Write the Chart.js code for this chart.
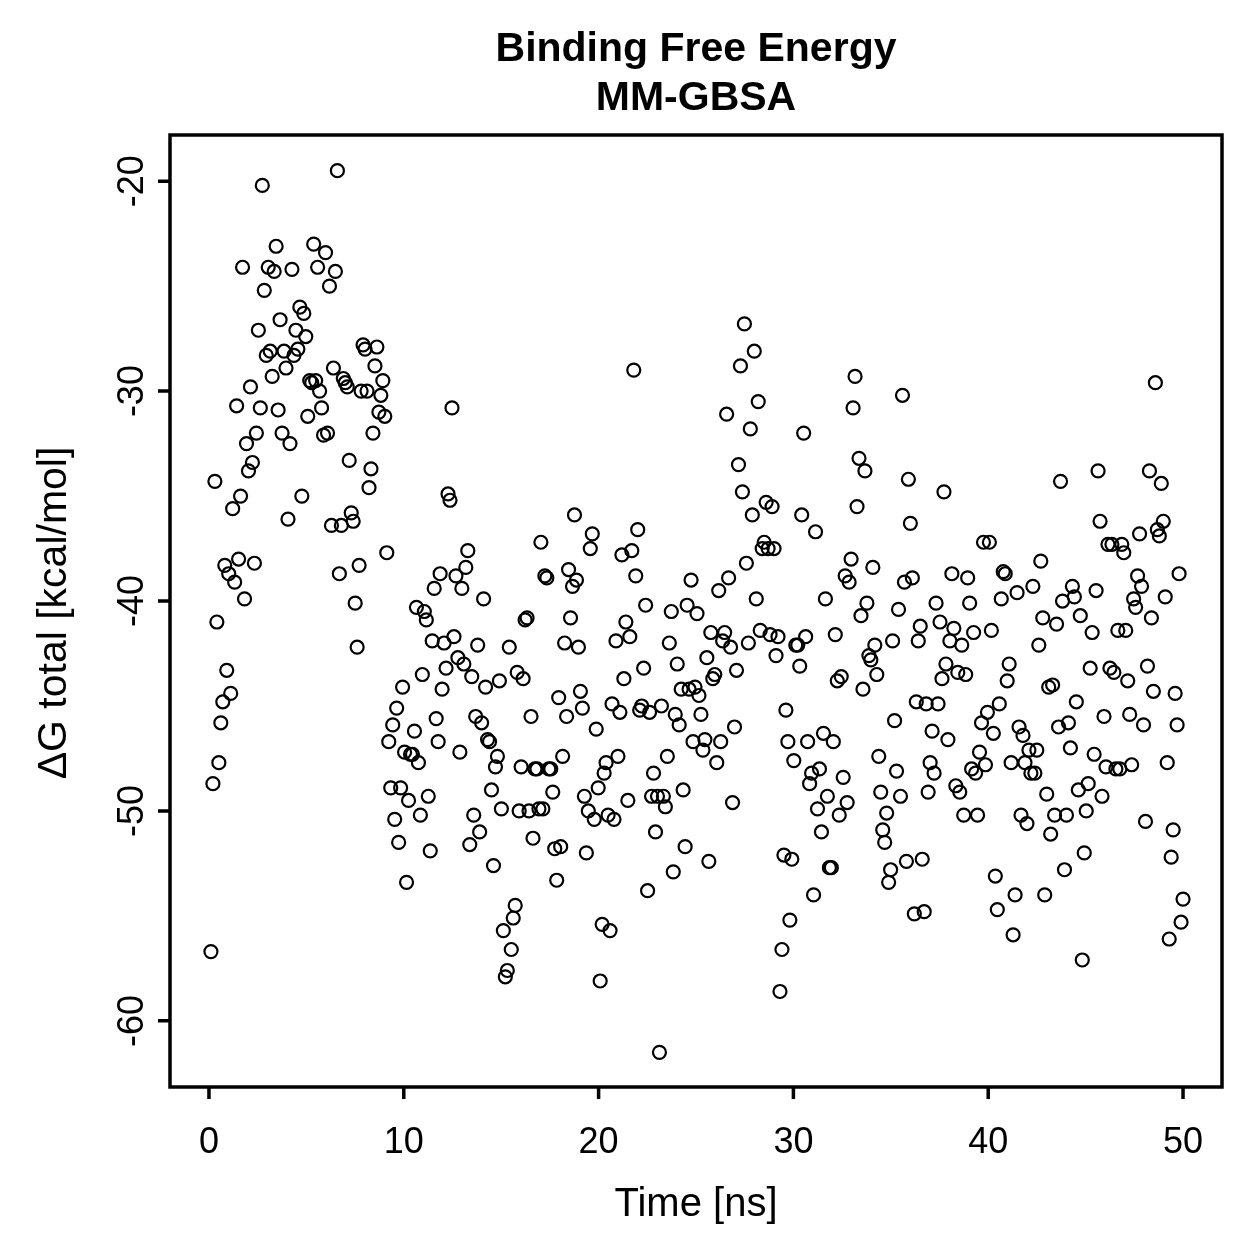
<!DOCTYPE html>
<html>
<head>
<meta charset="utf-8">
<script src="https://cdn.jsdelivr.net/npm/chart.js@4"></script>
<style>
  html, body { margin: 0; padding: 0; background: #fff; }
  canvas { display: block; }
</style>
</head>
<body>
<canvas id="gbsa" width="1259" height="1259"></canvas>
<script>
// binding free energy per frame (kcal/mol), 0 -> 50 ns
const dG = [
  -56.7, -48.7, -34.3, -41.0, -47.7, -45.8, -44.8, -38.3, -43.3, -38.7,
  -44.4, -35.6, -39.1, -30.7, -38.0, -35.0, -24.1, -39.9, -32.5, -33.8,
  -29.8, -33.4, -38.2, -32.0, -27.1, -30.8, -20.2, -25.2, -28.3, -24.1,
  -28.1, -29.3, -24.3, -23.1, -30.9, -26.6, -32.0, -28.1, -28.9, -36.1,
  -32.5, -24.2, -28.3, -27.1, -28.0, -26.0, -35.0, -26.3, -27.4, -31.2,
  -29.5, -29.6, -23.0, -29.5, -24.1, -30.0, -30.8, -32.1, -23.4, -32.0,
  -25.0, -36.4, -28.9, -24.3, -19.5, -38.7, -36.4, -29.4, -29.6, -29.8,
  -33.3, -35.8, -36.2, -40.1, -42.2, -38.3, -30.0, -27.8, -28.0, -30.0,
  -34.6, -33.7, -32.0, -28.8, -27.9, -31.0, -30.2, -29.5, -31.2, -37.7,
  -46.7, -48.9, -45.9, -50.4, -45.1, -51.5, -48.9, -44.1, -47.2, -53.4,
  -49.5, -47.3, -47.3, -46.2, -40.3, -47.7, -50.2, -43.5, -40.5, -40.9,
  -49.3, -51.9, -41.9, -39.4, -45.6, -46.7, -38.7, -44.2, -42.0, -43.2,
  -34.9, -35.2, -30.8, -41.7, -38.8, -42.7, -47.2, -39.4, -43.0, -38.4,
  -37.6, -51.6, -43.6, -50.2, -45.5, -42.1, -51.0, -45.8, -39.9, -44.1,
  -46.6, -46.7, -49.0, -52.6, -47.9, -47.4, -43.8, -49.9, -55.7, -57.9,
  -57.6, -42.2, -56.6, -55.1, -54.5, -43.4, -50.0, -47.9, -43.7, -40.9,
  -40.8, -50.0, -45.5, -51.3, -48.0, -48.0, -49.9, -37.2, -49.9, -38.8,
  -38.9, -48.0, -48.0, -49.1, -51.8, -53.3, -44.6, -51.7, -47.4, -42.0,
  -45.5, -38.5, -40.8, -39.3, -35.9, -39.0, -42.2, -44.3, -45.1, -49.3,
  -52.0, -50.0, -37.5, -36.8, -50.4, -46.1, -48.9, -58.1, -55.4, -48.2,
  -47.7, -50.2, -55.7, -44.9, -50.4, -41.9, -47.4, -45.3, -37.8, -43.7,
  -41.0, -49.5, -41.7, -37.6, -29.0, -38.8, -36.6, -45.2, -45.0, -43.2,
  -40.2, -53.8, -45.3, -49.3, -48.2, -51.0, -49.3, -61.5, -45.0, -49.3,
  -49.8, -47.4, -42.0, -40.5, -52.9, -45.4, -43.0, -45.9, -44.2, -49.0,
  -51.7, -40.2, -44.2, -39.0, -46.7, -44.1, -40.6, -44.5, -45.4, -47.1,
  -46.6, -42.7, -52.4, -41.5, -43.7, -43.5, -47.7, -39.5, -46.7, -41.9,
  -41.5, -31.1, -38.9, -42.2, -49.6, -46.0, -43.3, -33.5, -28.8, -34.8,
  -26.8, -38.2, -42.0, -31.8, -35.9, -28.1, -39.9, -30.5, -41.4, -37.5,
  -37.2, -35.3, -37.5, -41.6, -35.5, -37.5, -42.6, -41.7, -58.6, -56.6,
  -52.1, -45.2, -46.7, -55.2, -52.3, -47.6, -42.1, -42.1, -43.1, -35.9,
  -32.0, -41.7, -46.7, -48.7, -48.2, -54.0, -36.7, -49.9, -48.0, -51.0,
  -46.3, -39.9, -49.3, -52.7, -52.7, -46.7, -41.6, -43.8, -50.2, -43.6,
  -48.4, -38.8, -49.6, -39.1, -38.0, -30.8, -29.3, -35.5, -33.2, -40.7,
  -44.2, -33.8, -40.1, -42.6, -42.8, -38.4, -42.1, -43.5, -47.4, -49.1,
  -50.9, -51.5, -50.1, -53.4, -52.8, -41.9, -45.7, -48.1, -40.4, -49.3,
  -30.2, -39.1, -52.4, -34.2, -36.3, -38.9, -54.9, -44.8, -41.9, -41.2,
  -52.3, -54.8, -44.9, -49.1, -47.7, -46.2, -48.2, -40.1, -44.9, -41.0,
  -43.7, -34.8, -43.0, -46.6, -41.9, -38.7, -41.3, -48.8, -43.4, -49.1,
  -42.1, -50.2, -43.5, -38.9, -40.1, -48.0, -41.5, -48.2, -50.2, -47.2,
  -45.8, -37.2, -47.8, -45.3, -37.2, -41.4, -46.3, -53.1, -54.7, -44.9,
  -39.9, -38.6, -38.7, -43.8, -43.0, -47.7, -55.9, -54.0, -39.6, -46.0,
  -50.2, -46.4, -47.7, -50.6, -47.1, -48.2, -39.3, -48.2, -47.1, -42.1,
  -38.1, -40.8, -54.0, -49.2, -44.1, -51.1, -44.0, -50.2, -41.1, -46.0,
  -34.3, -40.0, -52.8, -50.2, -45.8, -47.0, -39.3, -39.8, -44.8, -49.0,
  -40.7, -57.1, -52.0, -50.0, -48.7, -43.2, -41.5, -47.3, -39.5, -33.8,
  -36.2, -49.3, -45.5, -47.9, -37.3, -43.2, -37.3, -43.4, -48.0, -41.4,
  -48.0, -37.3, -37.7, -41.4, -43.8, -45.4, -47.8, -39.9, -40.3, -38.8,
  -36.8, -39.3, -45.9, -50.5, -43.1, -33.8, -40.8, -44.3, -29.6, -36.6,
  -36.9, -34.4, -36.2, -39.8, -47.7, -56.1, -52.2, -50.9, -44.4, -45.9,
  -38.7, -55.3, -54.2
];
const simLength = 50; // ns
const xTicks = [0, 10, 20, 30, 40, 50];
const yTicks = [-60, -50, -40, -30, -20];
const titleLines = ['Binding Free Energy', 'MM-GBSA'];
const xTitle = 'Time [ns]';
const yTitle = '\u0394G total [kcal/mol]';

const FONT = "'Liberation Sans', Arial, Helvetica, sans-serif";

// frames are evenly spaced over the run
const pts = dG.map((v, i) => ({ x: (i + 1) * simLength / dG.length, y: v }));

// base-graphics style frame, ticks and labels
const rFrame = {
  id: 'rFrame',
  afterDraw(chart) {
    const ctx = chart.ctx;
    const a = chart.chartArea;
    const xs = chart.scales.x, ys = chart.scales.y;
    ctx.save();
    ctx.strokeStyle = '#000';
    ctx.fillStyle = '#000';
    ctx.lineWidth = 3.5;
    ctx.strokeRect(a.left, a.top, a.right - a.left, a.bottom - a.top);

    ctx.beginPath();
    xTicks.forEach(t => {
      const px = xs.getPixelForValue(t);
      ctx.moveTo(px, a.bottom);
      ctx.lineTo(px, a.bottom + 12);
    });
    yTicks.forEach(t => {
      const py = ys.getPixelForValue(t);
      ctx.moveTo(a.left, py);
      ctx.lineTo(a.left - 12, py);
    });
    ctx.stroke();

    ctx.font = '36px ' + FONT;
    ctx.textAlign = 'center';
    ctx.textBaseline = 'alphabetic';
    xTicks.forEach(t => {
      ctx.fillText(String(t), xs.getPixelForValue(t), 1153);
    });
    yTicks.forEach(t => {
      ctx.save();
      ctx.translate(143, ys.getPixelForValue(t));
      ctx.rotate(-Math.PI / 2);
      ctx.fillText(String(t), 0, 0);
      ctx.restore();
    });

    ctx.font = '40px ' + FONT;
    ctx.fillText(xTitle, (a.left + a.right) / 2, 1216);
    ctx.save();
    ctx.font = '41px ' + FONT;
    ctx.translate(66, (a.top + a.bottom) / 2 + 2);
    ctx.rotate(-Math.PI / 2);
    ctx.fillText(yTitle, 0, 0);
    ctx.restore();

    ctx.font = 'bold 41px ' + FONT;
    ctx.fillText(titleLines[0], (a.left + a.right) / 2, 61);
    ctx.fillText(titleLines[1], (a.left + a.right) / 2, 110);
    ctx.restore();
  }
};

new Chart(document.getElementById('gbsa'), {
  type: 'scatter',
  data: {
    datasets: [{
      data: pts,
      pointStyle: 'circle',
      pointRadius: 6.5,
      pointBorderWidth: 2.2,
      pointBorderColor: '#000',
      pointBackgroundColor: 'rgba(0,0,0,0)',
      showLine: false
    }]
  },
  options: {
    responsive: false,
    animation: false,
    devicePixelRatio: 1,
    events: [],
    layout: { padding: { left: 170, top: 135, right: 37, bottom: 172 } },
    plugins: { legend: { display: false }, tooltip: { enabled: false }, title: { display: false } },
    scales: {
      x: { type: 'linear', display: false, min: -2, max: 52 },
      y: { type: 'linear', display: false, min: -63.15, max: -17.8 }
    }
  },
  plugins: [rFrame]
});
</script>
</body>
</html>
